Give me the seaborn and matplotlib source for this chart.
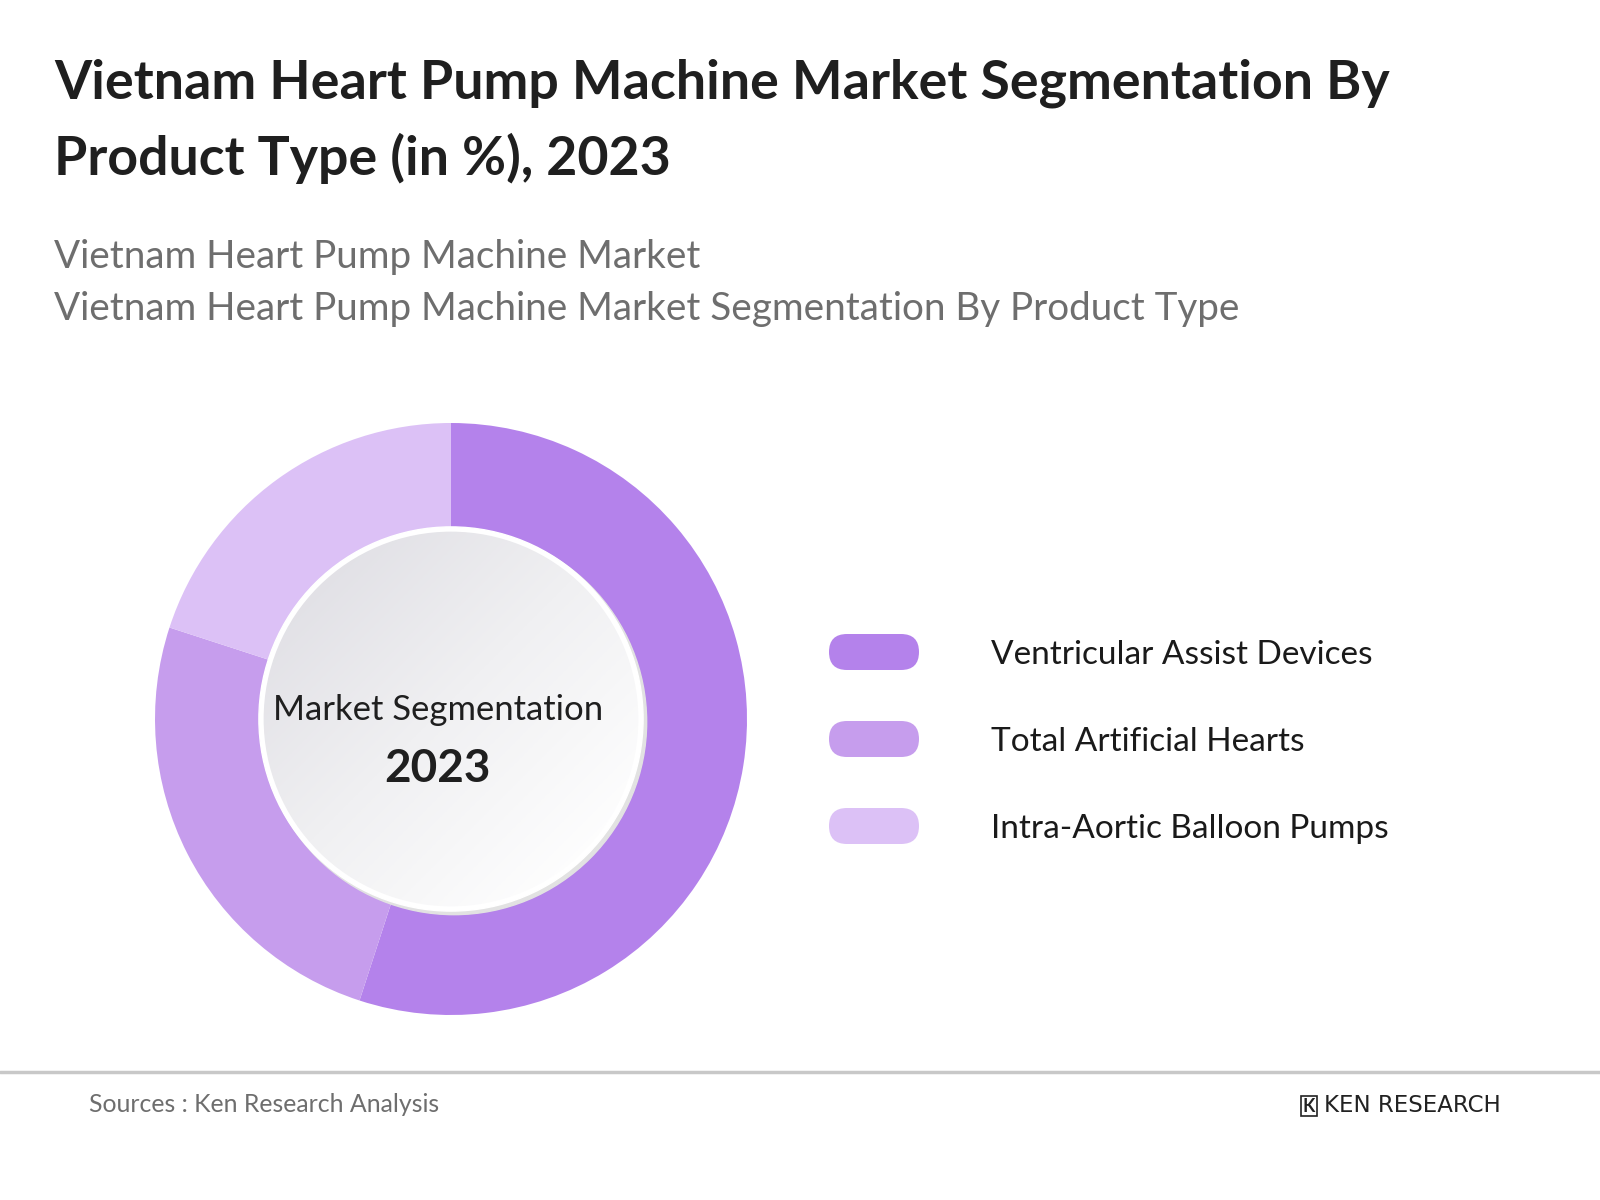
import numpy as np
import matplotlib
matplotlib.use("Agg")
import matplotlib.pyplot as plt
import seaborn as sns
from matplotlib.patches import Circle, FancyBboxPatch
from matplotlib.colors import LinearSegmentedColormap

# data
segments = ["Ventricular Assist Devices", "Total Artificial Hearts", "Intra-Aortic Balloon Pumps"]
shares = [55, 25, 20]
colors = ["#b482eb", "#c69ded", "#dcc1f6"]

title = "Vietnam Heart Pump Machine Market Segmentation By\nProduct Type (in %), 2023"
subtitle_1 = "Vietnam Heart Pump Machine Market"
subtitle_2 = "Vietnam Heart Pump Machine Market Segmentation By Product Type"
center_label = "Market Segmentation"
center_year = "2023"
source = "Sources : Ken Research Analysis"

sns.set_theme(style="white")
plt.rcParams['font.family'] = ['Lato', 'DejaVu Sans']

W, H = 1600, 1200
fig = plt.figure(figsize=(16, 12), dpi=100)
fig.patch.set_facecolor("white")

# titles
fig.text(54 / W, 1 - 58 / H, title, ha="left", va="top", fontsize=38.6, fontweight="bold",
         color="#1f1f1f", linespacing=1.6)
fig.text(54 / W, 1 - 257 / H, subtitle_1, ha="left", va="center", fontsize=27.8, color="#6e6e6e")
fig.text(54 / W, 1 - 309 / H, subtitle_2, ha="left", va="center", fontsize=27.8, color="#6e6e6e")

# donut
cx, cy, r = 451, 719, 296
ax = fig.add_axes([(cx - r) / W, 1 - (cy + r) / H, 2 * r / W, 2 * r / H])
hole = 0.637
ax.pie(shares, colors=colors, startangle=90, counterclock=False, radius=1,
       wedgeprops=dict(width=1 - hole, linewidth=0))
ax.set_xlim(-1, 1)
ax.set_ylim(-1, 1)
ax.axis("off")

# inner disc with soft gradient
ax.add_patch(Circle((0.01, -0.01), hole + 0.014, color="#e2e2e2", zorder=3))
ax.add_patch(Circle((0, 0), hole + 0.012, color="white", zorder=4))
gx, gy = np.meshgrid(np.linspace(-1, 1, 300), np.linspace(-1, 1, 300))
grad = (gx + gy) / 2
cmap = LinearSegmentedColormap.from_list("g", ["#dedde3", "#f0f0f2", "#ffffff"])
img = ax.imshow(grad, extent=[-hole, hole, -hole, hole], origin="upper", cmap=cmap,
                zorder=5, vmin=-0.9, vmax=0.8)
clip = Circle((0, 0), hole - 0.004, transform=ax.transData)
img.set_clip_path(clip)

ax.text(-0.045, 0.03, center_label, ha="center", va="center", fontsize=24.9, color="#1f1f1f", zorder=6)
ax.text(-0.045, -0.17, center_year, ha="center", va="center", fontsize=33, fontweight="bold",
        color="#1f1f1f", zorder=6)

# legend
lax = fig.add_axes([0, 0, 1, 1], facecolor="none")
lax.set_xlim(0, W)
lax.set_ylim(H, 0)
lax.axis("off")
for i, (name, c) in enumerate(zip(segments, colors)):
    y = 652 + i * 87
    lax.add_patch(FancyBboxPatch((829, y - 18), 90, 36,
                                 boxstyle="round,pad=0,rounding_size=18",
                                 facecolor=c, edgecolor="none"))
    lax.text(991, y + 3, name, ha="left", va="center", fontsize=24, color="#1a1a1a")

# footer
lax.plot([0, W], [1072, 1072], color="#c8c8c8", linewidth=2.5)
lax.text(89, 1105, source, ha="left", va="center", fontsize=17.9, color="#6e6e6e")
lax.text(1309, 1106, "K", ha="center", va="center", fontsize=13, fontweight="bold", color="#222222",
         bbox=dict(boxstyle="square,pad=0.1", facecolor="white", edgecolor="#222222", linewidth=1.2))
lax.text(1324, 1106, "KEN RESEARCH", ha="left", va="center", fontsize=16.5, color="#222222",
         family=["DejaVu Sans"])

fig.savefig("out.png", dpi=100, facecolor="white")
